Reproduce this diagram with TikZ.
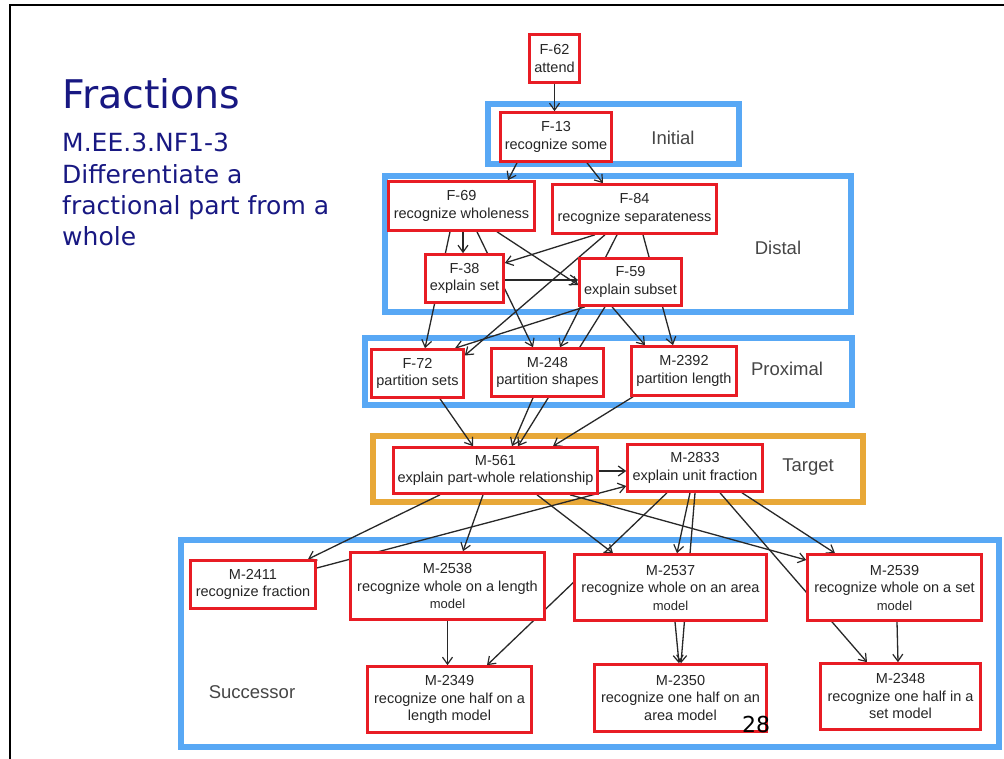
\documentclass[tikz,border=0pt]{standalone}
\usepackage{fontspec}
\setmainfont{Liberation Sans}
\newfontfamily\titlefont{DejaVu Sans}
\usetikzlibrary{arrows.meta,calc}
\definecolor{cred}{RGB}{232,28,36}
\definecolor{cblue}{RGB}{88,168,245}
\definecolor{corange}{RGB}{232,168,56}
\definecolor{cnavy}{RGB}{24,24,130}
\definecolor{cline}{RGB}{40,40,40}
\definecolor{clabel}{RGB}{70,70,70}
\pgfdeclarelayer{bg}
\pgfdeclarelayer{edges}
\pgfsetlayers{bg,edges,main}
\begin{document}
\begin{tikzpicture}[x=1pt,y=-1pt,
  concept/.style={draw=cred, line width=2.6pt, fill=white, align=center, inner sep=0pt,
    text=black!85, font=\fontsize{14.5}{17.5}\selectfont},
  grp/.style={draw=cblue, line width=5.5pt, inner sep=0pt},
  tgt/.style={draw=corange, line width=5.5pt, inner sep=0pt},
  lvl/.style={text=clabel, font=\fontsize{18.5}{22}\selectfont, inner sep=0pt},
  conn/.style={draw=cline, line width=1.3pt, -{Straight Barb[length=7pt,width=10pt,line width=1.2pt]}},
  ttl/.style={text=cnavy, anchor=base west, inner sep=0pt},
]
\useasboundingbox (0,0) rectangle (1004,759);
\begin{pgfonlayer}{bg}
  \fill[white] (0,0) rectangle (1004,759);
  \draw[line width=2pt, black] (9.5,759) -- (9.5,5) -- (1004,5);
  \node[grp, minimum width=251pt, minimum height=60pt] (ginit) at (613.5,134) {};
  \node[grp, minimum width=466pt, minimum height=136pt] (gdist) at (618,244) {};
  \node[grp, minimum width=487pt, minimum height=67pt] (gprox) at (608.5,371.5) {};
  \node[tgt, minimum width=490pt, minimum height=66pt] (gtarg) at (618,469) {};
  \node[grp, minimum width=818pt, minimum height=207pt] (gsucc) at (590,643.5) {};
\end{pgfonlayer}

% title
\node[ttl, font=\titlefont\fontsize{39.5}{40}\selectfont] (title) at (62,109) {Fractions};
\node[ttl, font=\titlefont\fontsize{25}{30}\selectfont] (sub1) at (62,152) {M.EE.3.NF1-3};
\node[ttl, font=\titlefont\fontsize{25}{30}\selectfont] (sub2) at (62,184) {Differentiate a};
\node[ttl, font=\titlefont\fontsize{25}{30}\selectfont] (sub3) at (62,215) {fractional part from a};
\node[ttl, font=\titlefont\fontsize{25}{30}\selectfont] (sub4) at (62,246) {whole};

% level labels
\node[lvl] (linit) at (673,138) {Initial};
\node[lvl] (ldist) at (778,248) {Distal};
\node[lvl] (lprox) at (787,369) {Proximal};
\node[lvl] (ltarg) at (808,467) {Target};
\node[lvl] (lsucc) at (252,692) {Successor};

% concept nodes
\node[concept, minimum width=50pt, minimum height=48pt] (f62) at (554.5,58.5) {F-62\\attend};
\node[concept, minimum width=111pt, minimum height=49pt] (f13) at (556,137) {F-13\\recognize some};
\node[concept, minimum width=146pt, minimum height=49pt] (f69) at (461.5,206) {F-69\\recognize wholeness};
\node[concept, minimum width=164pt, minimum height=49pt] (f84) at (634.5,209) {F-84\\recognize separateness};
\node[concept, minimum width=78pt, minimum height=48pt] (f38) at (464.5,278.5) {F-38\\explain set};
\node[concept, minimum width=102pt, minimum height=47pt] (f59) at (630.5,282) {F-59\\explain subset};
\node[concept, minimum width=92pt, minimum height=48pt] (f72) at (417.5,373.5) {F-72\\partition sets};
\node[concept, minimum width=112pt, minimum height=48pt] (m248) at (547.5,372.5) {M-248\\partition shapes};
\node[concept, minimum width=105pt, minimum height=49pt] (m2392) at (684,371) {M-2392\\partition length};
\node[concept, minimum width=204pt, minimum height=46pt] (m561) at (495.5,470.5) {M-561\\explain part-whole relationship};
\node[concept, minimum width=135pt, minimum height=47pt] (m2833) at (695,468) {M-2833\\explain unit fraction};
\node[concept, minimum width=125pt, minimum height=48pt] (m2411) at (253,584.5) {M-2411\\recognize fraction};
\node[concept, minimum width=194pt, minimum height=67pt] (m2538) at (447.5,586) {M-2538\\recognize whole on a length\\{\fontsize{13}{15}\selectfont model}};
\node[concept, minimum width=192pt, minimum height=66pt] (m2537) at (670.5,587.5) {M-2537\\recognize whole on an area\\{\fontsize{13}{15}\selectfont model}};
\node[concept, minimum width=174pt, minimum height=66pt] (m2539) at (894.5,587.5) {M-2539\\recognize whole on a set\\{\fontsize{13}{15}\selectfont model}};
\node[concept, minimum width=164pt, minimum height=66pt] (m2349) at (449.5,699.5) {M-2349\\recognize one half on a\\length model};
\node[concept, minimum width=172pt, minimum height=67pt] (m2350) at (680.5,698) {M-2350\\recognize one half on an\\area model};
\node[concept, minimum width=160pt, minimum height=66pt] (m2348) at (900.5,696.5) {M-2348\\recognize one half in a\\set model};

\node[inner sep=0pt, font=\titlefont\fontsize{22}{22}\selectfont] (pg) at (756,724) {28};

\begin{pgfonlayer}{edges}
  % top
  \draw[conn] (f62.south) -- (f62.south |- f13.north);
  \draw[conn] ([xshift=-39pt]f13.south) -- ([xshift=46.5pt]f69.north);
  \draw[conn] ([xshift=31pt]f13.south) -- ([xshift=-31.5pt]f84.north);
  % distal
  \draw[conn] ([xshift=1.5pt]f69.south) -- ([xshift=-1.5pt]f38.north);
  \draw[conn] ([xshift=35.5pt]f69.south) -- ([yshift=-3pt]f59.west);
  \draw[conn] ([xshift=-39.5pt]f84.south) -- ([yshift=15.5pt]f38.east);
  \draw[conn] ([yshift=-1.5pt]f38.east) -- ([yshift=2pt]f59.west);
  % distal -> proximal
  \draw[conn] ([xshift=-11.5pt]f69.south) -- ([xshift=7.5pt]f72.north);
  \draw[conn] ([xshift=15.5pt]f69.south) -- ([xshift=-14.5pt]m248.north);
  \draw[conn] ([xshift=-29.5pt]f84.south) -- ([yshift=18pt]f72.east);
  \draw[conn] ([xshift=-45.5pt]f59.south) -- ([xshift=37.5pt]f72.north);
  \draw[conn] ([xshift=-17.5pt]f84.south) -- ([xshift=12.5pt]m248.north);
  \draw[conn] ([xshift=-18.5pt]f59.south) -- ([xshift=-39pt]m2392.north);
  \draw[conn] ([xshift=8.5pt]f84.south) -- ([xshift=-11pt]m2392.north);
  % proximal -> target
  \draw[conn] ([xshift=22.5pt]f72.south) -- ([xshift=-22.5pt]m561.north);
  \draw[conn] ([xshift=-14.5pt]m248.south) -- ([xshift=16.5pt]m561.north);
  \draw[conn] ([xshift=-25.5pt]f59.south) -- ([xshift=22.5pt]m561.north);
  \draw[conn] ([xshift=-51pt]m2392.south) -- ([xshift=57.5pt]m561.north);
  \draw[conn] ([yshift=-0.5pt]m561.east) -- ([yshift=-3pt]m2833.west);
  \draw[conn] ([yshift=16.5pt]m2411.east) -- ([yshift=-18pt]m2833.west);
  % target -> successor
  \draw[conn] ([xshift=-55.5pt]m561.south) -- ([xshift=55pt]m2411.north);
  \draw[conn] ([xshift=-12.5pt]m561.south) -- ([xshift=15.5pt]m2538.north);
  \draw[conn] ([xshift=41.5pt]m561.south) -- ([xshift=-57.5pt]m2537.north);
  \draw[conn] ([xshift=74.5pt]m561.south) -- ([yshift=27.5pt]m2539.west);
  \draw[conn] ([xshift=-28pt]m2833.south) -- ([xshift=37.5pt]m2349.north);
  \draw[conn] ([xshift=-5pt]m2833.south) -- ([xshift=6.5pt]m2537.north);
  \draw[conn] (m2833.south) -- ([xshift=0.5pt]m2350.north);
  \draw[conn] ([xshift=25pt]m2833.south) -- ([xshift=-33.5pt]m2348.north);
  \draw[conn] ([xshift=47pt]m2833.south) -- ([xshift=-59.5pt]m2539.north);
  % successor internal
  \draw[conn] ([xshift=4.5pt]m2537.south) -- ([xshift=-1.5pt]m2350.north);
  \draw[conn] (m2538.south) -- (m2538.south |- m2349.north);
  \draw[conn] ([xshift=2.5pt]m2539.south) -- ([xshift=-2.5pt]m2348.north);
\end{pgfonlayer}
\end{tikzpicture}
\end{document}
